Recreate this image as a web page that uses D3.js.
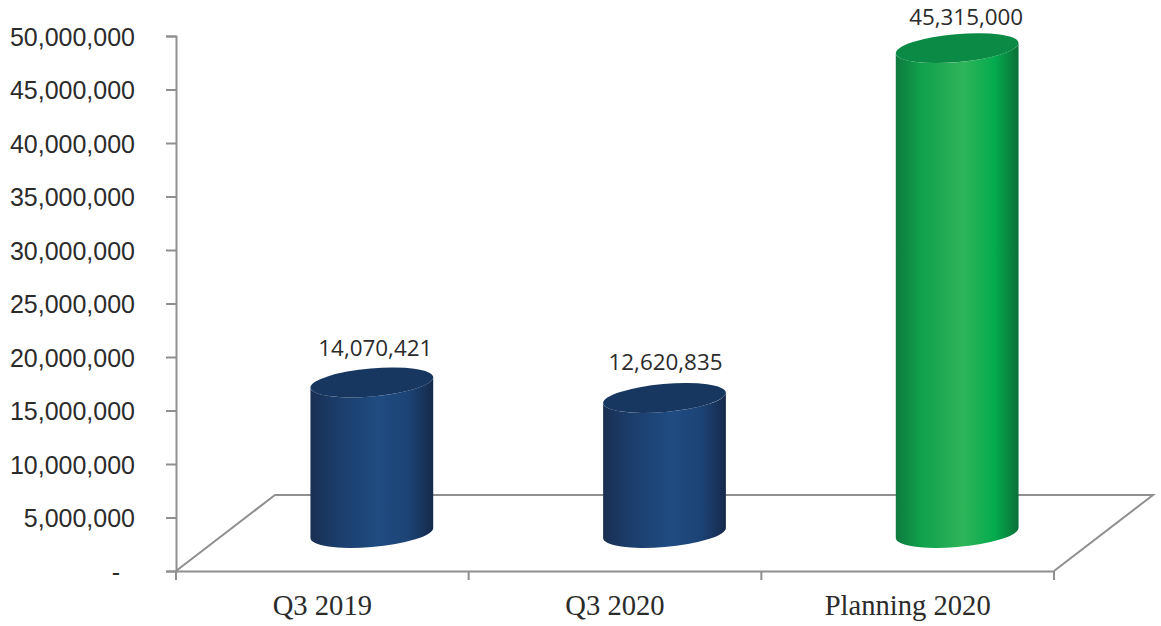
<!DOCTYPE html>
<html>
<head>
<meta charset="utf-8">
<script src="https://cdn.jsdelivr.net/npm/d3@7/dist/d3.min.js"></script>
<style>
  html, body { margin: 0; padding: 0; background: #fff; }
  svg { display: block; }
  .val { font-family: "Open Sans", sans-serif; font-size: 22.4px; fill: #2b2b2b; }
</style>
</head>
<body>
<svg id="chart" width="1161" height="626"></svg>
<script>
// Chart values
const categories = ["Q3 2019", "Q3 2020", "Planning 2020"];
const values = [14070421, 12620835, 45315000];
const valueLabels = ["14,070,421", "12,620,835", "45,315,000"];
const yTicks = [0, 5000000, 10000000, 15000000, 20000000, 25000000, 30000000, 35000000, 40000000, 45000000, 50000000];
const palettes = [
  { stops: ["#1a2f52", "#1b3c69", "#1f4c82", "#1c4375", "#16294a"], cap: "#173760" },
  { stops: ["#1a2f52", "#1b3c69", "#1f4c82", "#1c4375", "#16294a"], cap: "#173760" },
  { stops: ["#0f7a3e", "#10a04c", "#2fb45a", "#04ac4e", "#0b7038"], cap: "#0a8a44" }
];

// Layout
const plot = { left: 176, right: 1054, top: 36, bottom: 571 };
const depth = { dx: 99, dy: -76 };
const labelNudge = [[3.5, -26], [1, -28], [9, -23]];
const grey = "#8f8f8f";

const svg = d3.select("#chart");
const y = d3.scaleLinear().domain([0, 50000000]).range([plot.bottom, plot.top]);
const x = d3.scaleBand().domain(categories).range([plot.left, plot.right]).padding(0);

// Floor of the 3D plot area
svg.append("path")
  .attr("d", d3.line()([
    [plot.left, plot.bottom],
    [plot.left + depth.dx, plot.bottom + depth.dy],
    [plot.right + depth.dx, plot.bottom + depth.dy],
    [plot.right, plot.bottom]
  ]))
  .attr("fill", "none").attr("stroke", grey).attr("stroke-width", 2);

// Value axis
const yAxis = svg.append("g")
  .attr("transform", `translate(${plot.left},0)`)
  .call(d3.axisLeft(y).tickValues(yTicks).tickSize(10).tickPadding(31)
    .tickFormat(d => d === 0 ? "-" : d3.format(",")(d)));
yAxis.selectAll("path, line").attr("stroke", grey).attr("stroke-width", 2);
yAxis.selectAll("text")
  .attr("font-family", '"Liberation Sans", Arial, sans-serif')
  .attr("font-size", 25)
  .attr("fill", "#2b2b2b")
  .attr("dx", d => d === 0 ? -15 : 0)
  .attr("y", 1);

// Category axis: ticks sit on the band edges, labels on the band centres
const edges = [plot.left, ...categories.map(c => x(c) + x.bandwidth())];
svg.append("g").selectAll("line").data(edges).join("line")
  .attr("x1", d => d).attr("x2", d => d)
  .attr("y1", plot.bottom).attr("y2", plot.bottom + 9)
  .attr("stroke", grey).attr("stroke-width", 2);
const xAxis = svg.append("g")
  .attr("transform", `translate(0,${plot.bottom})`)
  .call(d3.axisBottom(x).tickSize(0).tickPadding(24));
xAxis.select("path").attr("stroke", grey).attr("stroke-width", 2);
xAxis.selectAll("text")
  .attr("font-family", '"Liberation Serif", "Times New Roman", serif')
  .attr("font-size", 28.6)
  .attr("fill", "#2b2b2b");

// Cylinders: a tilted ellipse at the base and at the value, joined by a shaded body
const rx = 61.6, ry = 14, tilt = -5 * Math.PI / 180;
const halfW = Math.sqrt(rx * rx * Math.cos(tilt) ** 2 + ry * ry * Math.sin(tilt) ** 2);
const edgeDrop = -(rx * rx - ry * ry) * Math.sin(tilt) * Math.cos(tilt) / halfW;
const tiltDeg = tilt * 180 / Math.PI;

const defs = svg.append("defs");
palettes.forEach((p, i) => {
  const g = defs.append("linearGradient").attr("id", `body${i}`);
  [0, 0.2, 0.55, 0.8, 1].forEach((o, k) => {
    g.append("stop").attr("offset", o).attr("stop-color", p.stops[k]);
  });
});

const bars = svg.append("g").selectAll("g").data(categories).join("g");
bars.each(function (c, i) {
  const g = d3.select(this);
  const cx = x(c) + x.bandwidth() / 2 + depth.dx / 2;
  const base = plot.bottom + depth.dy / 2;
  const top = y(values[i]) + depth.dy / 2;
  g.append("path")
    .attr("d", `M${cx - halfW},${top + edgeDrop}` +
      `L${cx - halfW},${base + edgeDrop}` +
      `A${rx},${ry} ${tiltDeg} 0 0 ${cx + halfW},${base - edgeDrop}` +
      `L${cx + halfW},${top - edgeDrop}` +
      `A${rx},${ry} ${tiltDeg} 0 1 ${cx - halfW},${top + edgeDrop}Z`)
    .attr("fill", `url(#body${i})`);
  g.append("ellipse")
    .attr("rx", rx).attr("ry", ry)
    .attr("transform", `translate(${cx},${top}) rotate(${tiltDeg})`)
    .attr("fill", palettes[i].cap);
  g.append("text")
    .attr("class", "val")
    .attr("x", cx + labelNudge[i][0])
    .attr("y", top + labelNudge[i][1])
    .attr("text-anchor", "middle")
    .text(valueLabels[i]);
});
</script>
</body>
</html>
